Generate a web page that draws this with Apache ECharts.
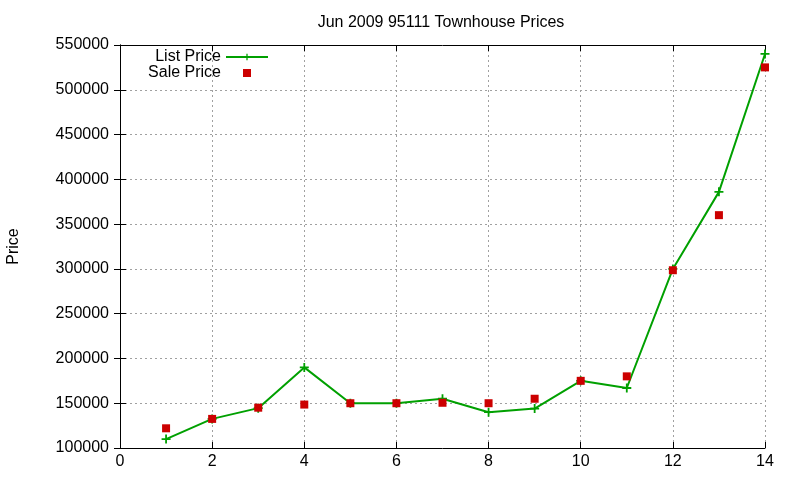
<!DOCTYPE html>
<html>
<head>
<meta charset="utf-8">
<script src="https://cdn.jsdelivr.net/npm/echarts@6/dist/echarts.min.js"></script>
<style>
  html, body { margin: 0; padding: 0; background: #fff; }
  #chart { width: 800px; height: 480px; }
</style>
</head>
<body>
<div id="chart"></div>
<script>
// data
const months = [1, 2, 3, 4, 5, 6, 7, 8, 9, 10, 11, 12, 13, 14]
const listPrice = [110000, 132500, 144500, 190000, 150000, 150000, 155000, 140000, 144000, 175000, 167000, 300000, 386000, 540000]
const salePrice = [122000, 132500, 145000, 148500, 150000, 150000, 150500, 150000, 155000, 175000, 180000, 298500, 360000, 525000]

const green = '#00a000'
const red = '#cc0000'
const font = 'Liberation Sans, Arial, sans-serif'
const plus = 'path://M4,0H6V4H10V6H6V10H4V6H0V4H4Z'
const square = 'path://M0,0H10V10H0Z'

const gridLine = { show: true, lineStyle: { color: '#a0a0a0', type: [2, 3], width: 1 } }
const border = { show: true, lineStyle: { color: '#000', width: 1 } }
const tick = { show: true, inside: true, length: 6, lineStyle: { color: '#000' } }

const chart = echarts.init(document.getElementById('chart'))
chart.setOption({
  animation: false,
  title: {
    text: 'Jun 2009 95111 Townhouse Prices',
    left: 436,
    top: 10,
    textAlign: 'center',
    textStyle: { fontFamily: font, fontSize: 16, fontWeight: 'normal', color: '#000' }
  },
  legend: {
    orient: 'vertical',
    align: 'right',
    right: 526,
    top: 44,
    itemWidth: 42,
    itemHeight: 8,
    itemGap: 0,
    symbolKeepAspect: true,
    textStyle: { fontFamily: font, fontSize: 16, color: '#000', lineHeight: 15 },
    data: [
      { name: 'List Price' },
      { name: 'Sale Price', icon: square }
    ]
  },
  grid: { left: 120, right: 35, top: 45, bottom: 32, containLabel: false, outerBoundsMode: 'none' },
  xAxis: [
    {
      type: 'value',
      min: 0,
      max: 14,
      interval: 2,
      axisLine: border,
      axisTick: tick,
      splitLine: gridLine,
      axisLabel: { fontFamily: font, fontSize: 16, color: '#000', margin: 6 }
    },
    {
      type: 'value',
      position: 'top',
      min: 0,
      max: 14,
      interval: 2,
      axisLine: border,
      axisTick: tick,
      splitLine: { show: false },
      axisLabel: { show: false }
    }
  ],
  yAxis: [
    {
      type: 'value',
      min: 100000,
      max: 550000,
      interval: 50000,
      name: 'Price',
      nameLocation: 'middle',
      nameGap: 98,
      nameTextStyle: { fontFamily: font, fontSize: 16, color: '#000' },
      axisLine: border,
      axisTick: tick,
      splitLine: gridLine,
      axisLabel: { fontFamily: font, fontSize: 16, color: '#000', margin: 11, formatter: v => String(v) }
    },
    {
      type: 'value',
      position: 'right',
      min: 100000,
      max: 550000,
      interval: 50000,
      axisLine: border,
      axisTick: tick,
      splitLine: { show: false },
      axisLabel: { show: false }
    }
  ],
  series: [
    {
      name: 'List Price',
      type: 'line',
      data: months.map((m, i) => [m, listPrice[i]]),
      symbol: plus,
      symbolSize: 9,
      showAllSymbol: true,
      itemStyle: { color: green },
      lineStyle: { color: green, width: 2 },
      z: 2
    },
    {
      name: 'Sale Price',
      type: 'scatter',
      data: months.map((m, i) => [m, salePrice[i]]),
      symbol: square,
      symbolSize: 8,
      itemStyle: { color: red, opacity: 1 },
      z: 3
    }
  ]
})
</script>
</body>
</html>
